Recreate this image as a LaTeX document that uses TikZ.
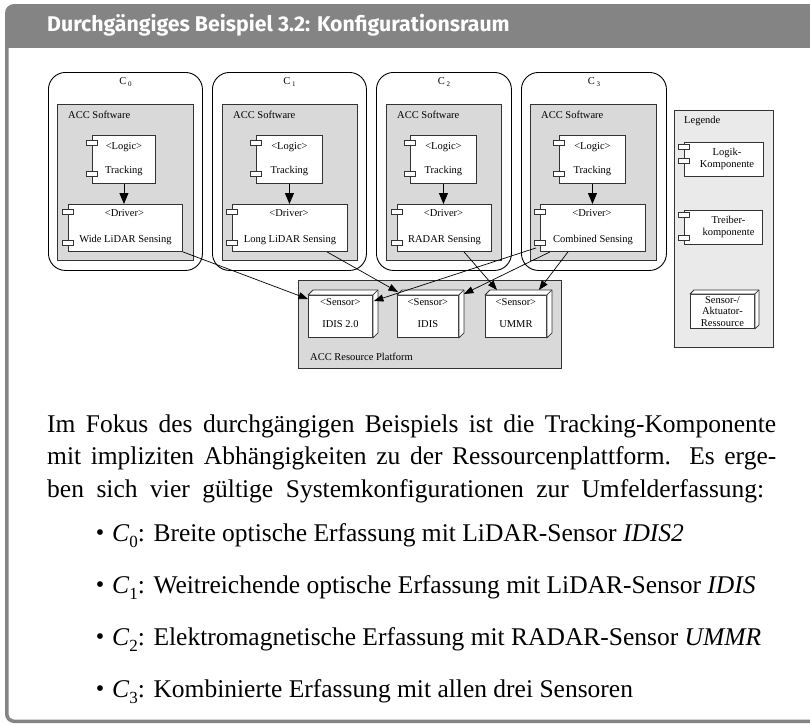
\documentclass[tikz,border=0pt]{standalone}
\usepackage{fontspec}
\setmainfont{Liberation Serif}
\newfontfamily\headfont{Fira Sans}
\usetikzlibrary{arrows.meta,calc}

\definecolor{framegray}{HTML}{848484}
\definecolor{pkgfill}{HTML}{D9D9D9}
\definecolor{legfill}{HTML}{EAEAEA}
\definecolor{edge}{HTML}{333333}

\newcommand\diagfont{\fontsize{10.5}{12}\selectfont}
\newcommand\bodyfont{\fontsize{25.5}{32.5}\selectfont}
\newcommand\cname[1]{C\,\raisebox{-0.45ex}{\fontsize{7}{7}\selectfont #1}}
\newcommand\idx[1]{\raisebox{-0.22em}{\fontsize{17}{17}\selectfont #1}}

\tikzset{
  cfgbox/.style={draw=black, line width=0.9pt, rounded corners=17pt, inner sep=0pt, anchor=north west},
  pkgbox/.style={draw=edge, fill=pkgfill, line width=0.9pt, inner sep=0pt, anchor=north west},
  legbox/.style={pkgbox, fill=legfill},
  compbox/.style={draw=edge, fill=white, line width=0.9pt, inner sep=0pt, anchor=north west},
  portbox/.style={draw=edge, fill=white, line width=0.7pt},
  solid3d/.style={draw=edge, fill=white, line width=0.8pt, line join=round},
  lbl/.style={inner sep=0pt, font=\diagfont},
  dep/.style={draw=black, line width=0.9pt, -{Triangle[width=9pt,length=11pt]}},
  uses/.style={draw=black, line width=0.7pt, -{Triangle[width=7pt,length=9.5pt]}},
  bodytext/.style={inner sep=0pt, anchor=base west, font=\bodyfont},
  bulletmark/.style={inner sep=0pt, font=\fontsize{24}{24}\selectfont},
}

% component box with two ports on its left edge
% #1 name, #2 x, #3 y, #4 width, #5 height, #6/#7 port offsets from the top
\newcommand\component[7]{%
  \node[compbox, minimum width=#4pt, minimum height=#5pt] (#1) at (#2,#3) {};
  \draw[portbox] ($(#1.north west)+(-5.5,#6-2.5)$) rectangle ++(11,5);
  \draw[portbox] ($(#1.north west)+(-5.5,#7-2.5)$) rectangle ++(11,5);
}

% three-dimensional resource block, #6 = depth
\newcommand\resource[6]{%
  \node[compbox, minimum width=#4pt, minimum height=#5pt] (#1) at (#2,#3) {};
  \draw[solid3d] (#1.north west) -- ++(#6,-#6) -- ($(#1.north east)+(#6,-#6)$)
     -- ($(#1.south east)+(#6,-#6)$) -- (#1.south east) -- (#1.north east) -- cycle;
  \draw[solid3d] (#1.north east) -- ++(#6,-#6);
}

\begin{document}
\begin{tikzpicture}[x=1pt,y=-1pt]
\useasboundingbox (0,0) rectangle (810,724);
\clip (0,0) rectangle (810,724);
\fill[white] (0,0) rectangle (810,724);

% framed example box with title bar
\fill[framegray, rounded corners=9pt] (5,4) rectangle (850,723);
\fill[white] (850,48) -- (8.5,48) -- (8.5,714) arc[start angle=180,end angle=270,radius=5.5pt] -- (850,719.5) -- cycle;
\node[anchor=base west, inner sep=0pt, text=white, font=\headfont\bfseries\fontsize{21.3}{24}\selectfont] (title) at (47,31.5) {Durchgängiges Beispiel 3.2: Konfigurationsraum};

% configurations
\node[cfgbox, minimum width=154pt, minimum height=198pt] (cfg0) at (48,72) {};
\node[cfgbox, minimum width=154pt, minimum height=198pt] (cfg1) at (212,72) {};
\node[cfgbox, minimum width=135pt, minimum height=198pt] (cfg2) at (376,72) {};
\node[cfgbox, minimum width=145pt, minimum height=198pt] (cfg3) at (521,72) {};
\foreach \i in {0,1,2,3} {
  \node[lbl] (cfg\i lbl) at ($(cfg\i.north)+(0,10)$) {\cname{\i}};
}

% software packages
\node[pkgbox, minimum width=136pt, minimum height=156pt] (sw0) at (57,104) {};
\node[pkgbox, minimum width=135pt, minimum height=156pt] (sw1) at (222,104) {};
\node[pkgbox, minimum width=115pt, minimum height=156pt] (sw2) at (386,104) {};
\node[pkgbox, minimum width=126pt, minimum height=156pt] (sw3) at (530,104) {};
\foreach \i in {0,1,2,3} {
  \node[lbl, anchor=west] (sw\i lbl) at ($(sw\i.north west)+(11,11)$) {ACC Software};
}

% logic components
\component{log0}{92}{135}{63}{48}{7.5}{39}
\component{log1}{256}{135}{66}{48}{7.5}{39}
\component{log2}{410}{135}{66}{48}{7.5}{39}
\component{log3}{559}{135}{66}{48}{7.5}{39}

% driver components
\component{drv0}{68}{204}{114}{47}{7.7}{39.2}
\component{drv1}{232}{204}{115}{47}{7.7}{39.2}
\component{drv2}{397}{204}{94}{47}{7.7}{39.2}
\component{drv3}{540}{204}{105}{47}{7.7}{39.2}

\foreach \i in {0,1,2,3} {
  \node[lbl] (log\i st) at ($(log\i.north)+(0,12)$) {\textless Logic\textgreater};
  \node[lbl] (log\i nm) at ($(log\i.north)+(0,36)$) {Tracking};
  \node[lbl] (drv\i st) at ($(drv\i.north)+(-1,9)$) {\textless Driver\textgreater};
  \draw[dep] (log\i) -- (log\i |- drv\i.north);
}
\node[lbl] (drv0nm) at ($(drv0.north)+(0,36)$) {Wide LiDAR Sensing};
\node[lbl] (drv1nm) at ($(drv1.north)+(0,36)$) {Long LiDAR Sensing};
\node[lbl] (drv2nm) at ($(drv2.north)+(0,36)$) {RADAR Sensing};
\node[lbl] (drv3nm) at ($(drv3.north)+(0,36)$) {Combined Sensing};

% legend
\node[legbox, minimum width=99pt, minimum height=237pt] (leg) at (674,110) {};
\node[lbl, anchor=west] (leglbl) at (684,121) {Legende};
\component{legLogic}{684}{142}{79}{34}{5}{19}
\node[lbl, align=center] (legLogicTxt) at ($(legLogic.center)+(3,0)$) {Logik-\\Komponente};
\component{legDriver}{684}{210}{78}{34}{5.3}{28}
\node[lbl, align=center] (legDriverTxt) at ($(legDriver.center)+(5,0)$) {Treiber-\\komponente};
\resource{legRes}{690}{294}{64}{34}{4}
\node[lbl, align=center, font=\fontsize{10.5}{11.5}\selectfont] (legResTxt) at ($(legRes.center)+(0,0)$) {Sensor-/\\Aktuator-\\Ressource};

% resource platform
\node[pkgbox, minimum width=263pt, minimum height=88pt] (plat) at (298,280) {};
\node[lbl, anchor=west] (platlbl) at (310,357) {ACC Resource Platform};
\resource{s0}{308}{295}{64}{42}{5}
\resource{s1}{397}{295}{61}{42}{5}
\resource{s2}{485}{295}{61}{42}{5}
\foreach \i/\n in {0/IDIS 2.0,1/IDIS,2/UMMR} {
  \node[lbl] (s\i st) at ($(s\i.north)+(0,7)$) {\textless Sensor\textgreater};
  \node[lbl] (s\i nm) at ($(s\i.north)+(0,29)$) {\n};
}

% sensor usage
\draw[uses] (drv0.south east) -- ($(s0.north west)+(0,4)$);
\draw[uses] ($(drv1.south west)+(95,0)$) -- ($(s1.north west)+(1,-3)$);
\draw[uses] ($(drv2.south west)+(67,0)$) -- ($(s2.north west)+(12,-5)$);
\draw[uses] ($(drv3.south west)+(-4,-4)$) -- ($(s0.north east)+(1,6)$);
\draw[uses] ($(drv3.south west)+(10,0)$) -- ($(s1.north east)+(5,-1)$);
\draw[uses] ($(drv3.south west)+(28,0)$) -- ($(s2.north east)+(-8,-5)$);

% explanatory text
\node[bodytext] (para1) at (47,432) {\hbox to 729pt{Im Fokus des durchgängigen Beispiels ist die Tracking-Komponente}};
\node[bodytext] (para2) at (47,464.5) {\hbox to 729pt{mit impliziten Abhängigkeiten zu der Ressourcenplattform. Es erge-}};
\node[bodytext] (para3) at (47,497) {\hbox to 717pt{ben sich vier gültige Systemkonfigurationen zur Umfelderfassung:}};

\foreach \i/\y in {0/535,1/587,2/639,3/691} {
  \node[bulletmark] (b\i) at (100,\y) {\textbullet};
}
\node[bodytext] (item0) at (112,541.5) {\textit{C}\idx{0}: Breite optische Erfassung mit LiDAR-Sensor \textit{IDIS2}};
\node[bodytext] (item1) at (112,593.5) {\textit{C}\idx{1}: Weitreichende optische Erfassung mit LiDAR-Sensor \textit{IDIS}};
\node[bodytext] (item2) at (112,645.5) {\textit{C}\idx{2}: Elektromagnetische Erfassung mit RADAR-Sensor \textit{UMMR}};
\node[bodytext] (item3) at (112,697.5) {\textit{C}\idx{3}: Kombinierte Erfassung mit allen drei Sensoren};
\end{tikzpicture}
\end{document}
